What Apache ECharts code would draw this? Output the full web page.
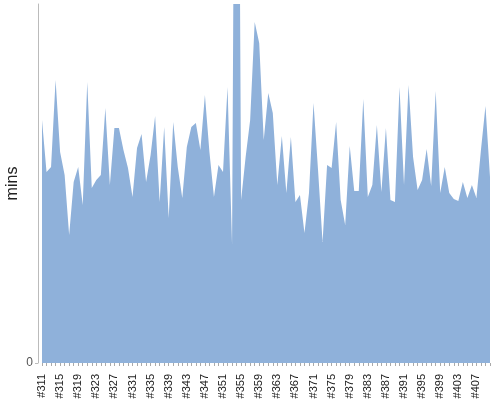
<!DOCTYPE html>
<html>
<head>
<meta charset="utf-8">
<script src="https://cdn.jsdelivr.net/npm/echarts@6/dist/echarts.min.js"></script>
<style>html,body{margin:0;padding:0;background:#fff}#chart{width:500px;height:400px}</style>
</head>
<body>
<div id="chart"></div>
<script>
var categories = ['#311','#312','#313','#314','#315','#316','#317','#318','#319','#320',
'#321','#322','#323','#324','#325','#326','#327','#328','#329','#330',
'#331','#332','#333','#334','#335','#336','#337','#338','#339','#340',
'#341','#342','#343','#344','#345','#346','#347','#348','#349','#350',
'#351','#352','#353','#354','#355','#356','#357','#358','#359','#360',
'#361','#362','#363','#364','#365','#366','#367','#368','#369','#370',
'#371','#372','#373','#374','#375','#376','#377','#378','#379','#380',
'#381','#382','#383','#384','#385','#386','#387','#388','#389','#390',
'#391','#392','#393','#394','#395','#396','#397','#398','#399','#400',
'#401','#402','#403','#404','#405','#406','#407','#408','#409','#410'];
var mins = [243,191,196,283,211,188,128,181,196,158,
281,175,183,188,255,178,235,235,213,195,
166,215,229,181,208,247,161,236,145,241,
196,165,216,236,240,213,268,211,166,198,
191,276,118,1000,163,206,243,341,320,223,
270,250,178,227,170,226,161,168,130,170,
260,193,121,198,195,241,163,138,217,172,
172,264,166,178,238,171,235,163,161,276,
178,278,206,173,183,214,177,272,170,196,
170,164,162,181,165,178,165,213,257,186];
var yTickValues = [0];

var chart = echarts.init(document.getElementById('chart'), null, {renderer: 'canvas'});
chart.setOption({
  animation: false,
  grid: {left: 42, right: 10, top: 4, bottom: 37, containLabel: false, outerBoundsMode: 'none'},
  xAxis: {
    type: 'category',
    data: categories,
    boundaryGap: false,
    offset: 4,
    axisLine: {show: false},
    axisTick: {show: true, interval: 0, length: 3, lineStyle: {color: '#aaa'}},
    axisLabel: {interval: 3, rotate: 90, fontSize: 11, color: '#222', fontFamily: 'Liberation Sans, Arial, sans-serif', margin: 7},
    splitLine: {show: false}
  },
  yAxis: {
    type: 'value',
    min: 0,
    max: 359,
    offset: 4,
    name: 'mins',
    nameLocation: 'middle',
    nameGap: 17,
    nameMoveOverlap: false,
    nameTextStyle: {fontSize: 16, color: '#222', fontFamily: 'Liberation Sans, Arial, sans-serif'},
    axisLine: {show: true, lineStyle: {color: '#bbb'}},
    axisTick: {show: true, length: 3, customValues: yTickValues, lineStyle: {color: '#bbb'}},
    axisLabel: {customValues: yTickValues, fontSize: 12, color: '#555', fontFamily: 'Liberation Sans, Arial, sans-serif', margin: 5},
    splitLine: {show: false}
  },
  series: [{
    type: 'line',
    data: mins,
    showSymbol: false,
    symbol: 'none',
    clip: true,
    lineStyle: {width: 0},
    areaStyle: {color: '#8FB1DA', opacity: 1}
  }]
});
</script>
</body>
</html>
